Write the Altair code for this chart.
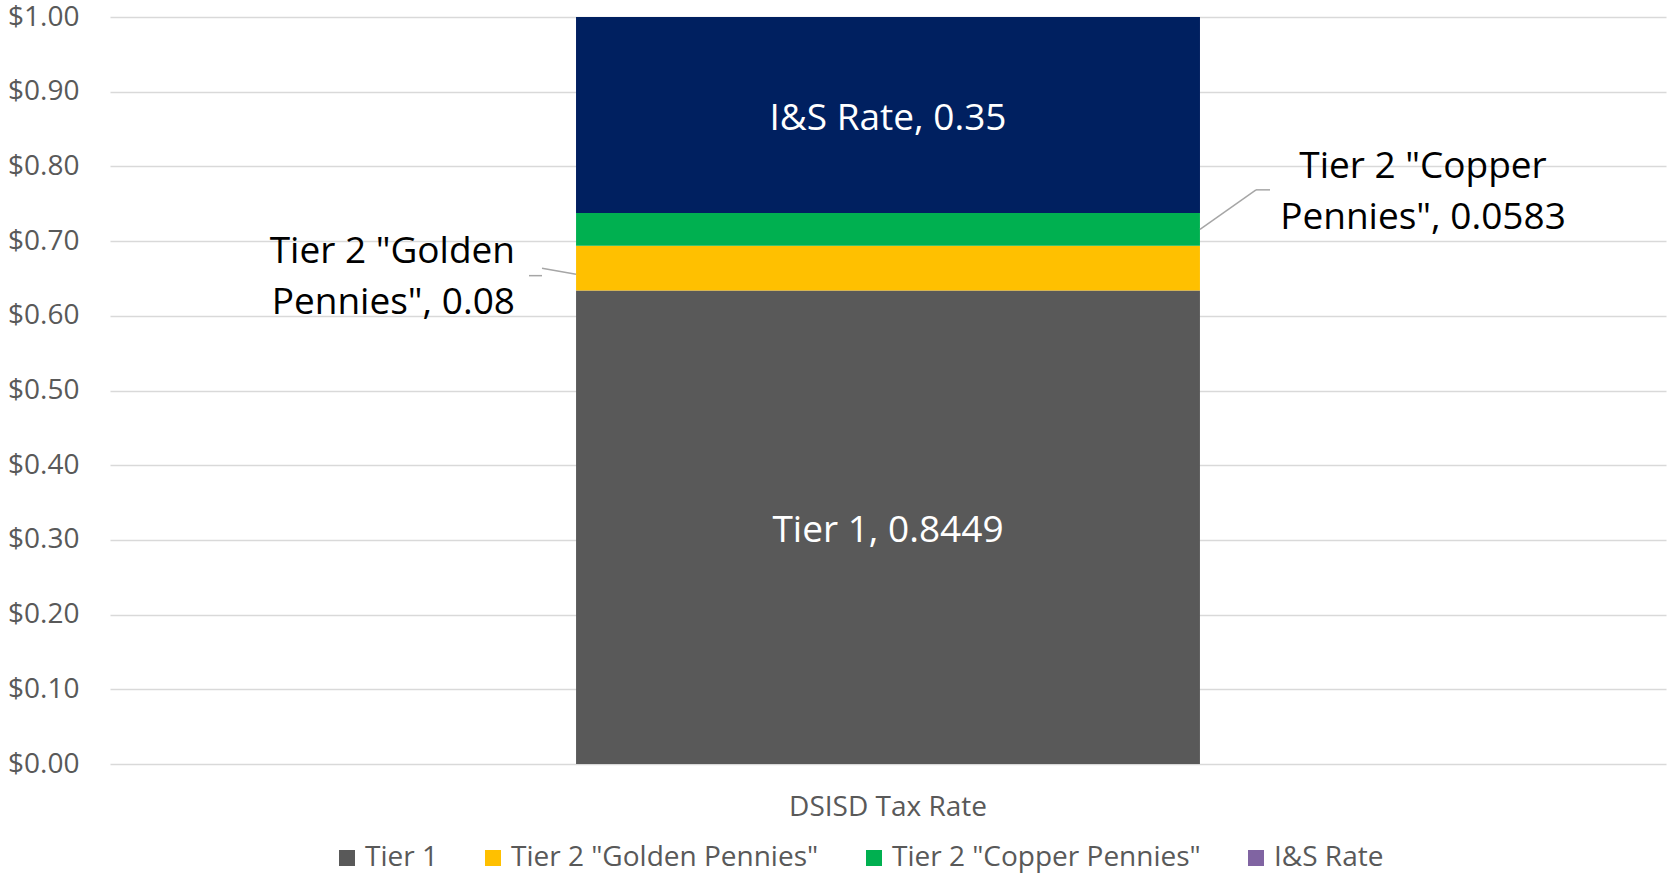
import altair as alt
import pandas as pd

# ---- data ----
categories = ["DSISD Tax Rate"]
series = ["Tier 1", 'Tier 2 "Golden Pennies"', 'Tier 2 "Copper Pennies"', "I&S Rate"]
values = [0.8449, 0.08, 0.0583, 0.35]
bar_colors = ["#595959", "#FFC000", "#00B050", "#002060"]
legend_colors = ["#595959", "#FFC000", "#00B050", "#8064A2"]
inside_labels = ["Tier 1, 0.8449", "", "", "I&S Rate, 0.35"]
outside_labels = ["", 'Tier 2 "Golden\nPennies", 0.08', 'Tier 2 "Copper\nPennies", 0.0583', ""]
y_ticks = [0, 0.1, 0.2, 0.3, 0.4, 0.5, 0.6, 0.7, 0.8, 0.9, 1.0]

df = pd.DataFrame({
    "cat": categories * len(series),
    "series": series,
    "value": values,
    "order": list(range(len(series))),
    "inside": inside_labels,
    "outside": outside_labels,
})

FONT = "Open Sans"
W, H = 1556, 747

base = alt.Chart(df).transform_stack(
    stack="value", groupby=["cat"], as_=["y0", "y1"], offset="normalize",
    sort=[alt.SortField("order", order="ascending")]
).transform_calculate(mid="(datum.y0 + datum.y1) / 2")

xenc = alt.X("cat:N", title=None,
             scale=alt.Scale(paddingInner=0, paddingOuter=0.747),
             axis=alt.Axis(labelFontSize=28, labelColor="#595959", labelFont=FONT,
                           labelPadding=29, ticks=False, domain=False, labelAngle=0,
                           grid=False, labelLimit=0))
yscale = alt.Scale(domain=[0, 1], nice=False)

bars = base.mark_bar().encode(
    x=xenc,
    y=alt.Y("y0:Q", scale=yscale, title=None,
            axis=alt.Axis(values=y_ticks, format="$.2f", labelFontSize=28, labelColor="#595959",
                          labelFont=FONT, labelPadding=31, ticks=False, domain=False,
                          gridColor="#D9D9D9", gridWidth=1.5)),
    y2="y1:Q",
    color=alt.Color("series:N", sort=series,
                    scale=alt.Scale(domain=series, range=legend_colors),
                    legend=alt.Legend(title=None, orient="none", legendX=223, legendY=827,
                                      direction="horizontal", columns=4,
                                      symbolType="square", symbolSize=256, symbolStrokeWidth=0,
                                      labelFontSize=28, labelColor="#595959", labelFont=FONT,
                                      labelOffset=4, columnPadding=41, labelLimit=0)),
    order=alt.Order("order:Q"),
)

overlay = base.transform_filter(alt.datum.series == series[3]).mark_bar(color=bar_colors[3]).encode(
    x=alt.X("cat:N"), y=alt.Y("y0:Q", scale=yscale), y2="y1:Q"
)

inside_text = base.transform_filter(alt.datum.inside != "").mark_text(
    color="white", fontSize=37, font=FONT, baseline="middle", align="center", dy=4
).encode(x=alt.X("cat:N"), y=alt.Y("mid:Q", scale=yscale), text="inside:N")

golden_text = base.transform_filter(alt.datum.order == 1).mark_text(
    color="black", fontSize=37, font=FONT, baseline="middle", align="right",
    dx=-373, dy=-16, lineBreak="\n", lineHeight=51
).encode(x=alt.X("cat:N"), y=alt.Y("mid:Q", scale=yscale), text="outside:N")

copper_text = base.transform_filter(alt.datum.order == 2).mark_text(
    color="black", fontSize=37, font=FONT, baseline="middle", align="center",
    dx=535, dy=-62, lineBreak="\n", lineHeight=51
).encode(x=alt.X("cat:N"), y=alt.Y("mid:Q", scale=yscale), text="outside:N")

# leader lines
golden_lead = base.transform_filter(alt.datum.order == 1).transform_calculate(
    lead="datum.mid - 0.008"
).mark_rule(color="#A6A6A6", strokeWidth=1.5).encode(
    x=alt.value(432), x2=alt.value(466), y=alt.Y("mid:Q", scale=yscale), y2="lead:Q"
)
golden_lead2 = base.transform_filter(alt.datum.order == 1).transform_calculate(
    lead="datum.mid - 0.01"
).mark_rule(color="#A6A6A6", strokeWidth=1.5).encode(
    x=alt.value(419), x2=alt.value(432), y=alt.Y("lead:Q", scale=yscale), y2="lead:Q"
)
copper_lead = base.transform_filter(alt.datum.order == 2).transform_calculate(
    lead="datum.mid + 0.053"
).mark_rule(color="#A6A6A6", strokeWidth=1.5).encode(
    x=alt.value(1090), x2=alt.value(1146), y=alt.Y("mid:Q", scale=yscale), y2="lead:Q"
)
copper_lead2 = base.transform_filter(alt.datum.order == 2).transform_calculate(
    lead="datum.mid + 0.053"
).mark_rule(color="#A6A6A6", strokeWidth=1.5).encode(
    x=alt.value(1146), x2=alt.value(1160), y=alt.Y("lead:Q", scale=yscale), y2="lead:Q"
)

chart = alt.layer(
    bars, overlay, inside_text, golden_text, copper_text,
    golden_lead, golden_lead2, copper_lead, copper_lead2
).properties(
    width=W, height=H,
    autosize=alt.AutoSizeParams(type="none"),
    padding={"left": 110, "top": 17, "right": 3, "bottom": 115},
    background="white",
).configure_view(stroke=None, strokeWidth=0)

chart.save("out.html", embed_options={"renderer": "svg", "actions": False})
